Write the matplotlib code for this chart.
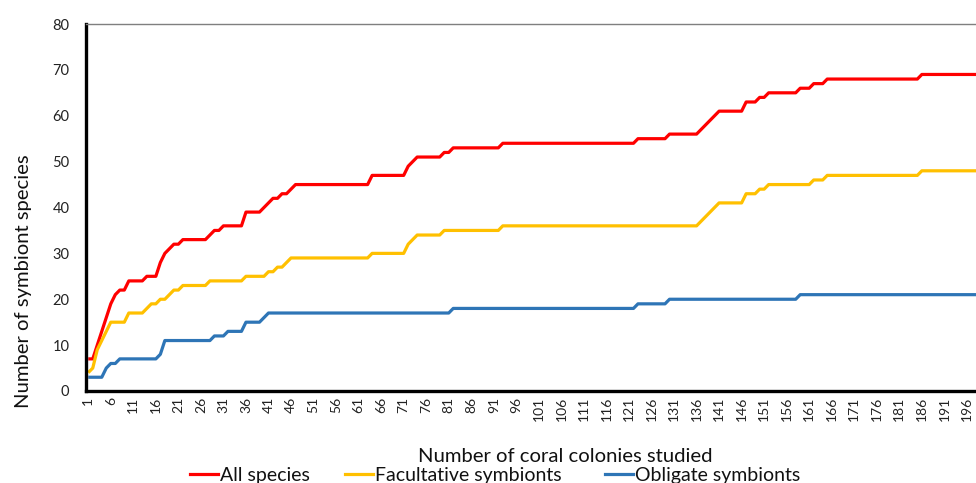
import numpy as np
import matplotlib
matplotlib.use("Agg")
import matplotlib.pyplot as plt
from matplotlib.lines import Line2D

plt.rcParams['font.family'] = ['Lato', 'DejaVu Sans']

# Cumulative species counts per colony, stored as (level, run length) pairs
all_species_levels = [7, 10, 13, 16, 19, 21, 22, 24, 25, 28, 30, 31, 32, 33, 34, 35, 36, 39,
                      40, 41, 42, 43, 44, 45, 47, 49, 50, 51, 52, 53, 54, 55, 56, 57, 58, 59,
                      60, 61, 63, 64, 65, 66, 67, 68, 69]
all_species_runs = [2, 1, 1, 1, 1, 1, 2, 4, 3, 1, 1, 1, 2, 6, 1, 2, 5, 4,
                    1, 1, 2, 2, 1, 17, 8, 1, 1, 6, 2, 11, 30, 7, 7, 1, 1, 1,
                    1, 6, 3, 2, 7, 3, 3, 21, 15]

facultative_levels = [4, 5, 9, 11, 13, 15, 17, 18, 19, 20, 21, 22, 23, 24, 25, 26, 27, 28,
                      29, 30, 32, 33, 34, 35, 36, 37, 38, 39, 40, 41, 43, 44, 45, 46, 47, 48]
facultative_runs = [1, 1, 1, 1, 1, 4, 4, 1, 2, 2, 1, 2, 6, 8, 5, 2, 2, 1,
                    18, 8, 1, 1, 6, 13, 44, 1, 1, 1, 1, 6, 3, 2, 10, 3, 21, 15]

obligate_levels = [3, 5, 6, 7, 8, 11, 12, 13, 15, 16, 17, 18, 19, 20, 21]
obligate_runs = [4, 1, 2, 9, 1, 11, 3, 4, 4, 1, 41, 41, 7, 29, 42]

series_names = ["All species", "Facultative symbionts", "Obligate symbionts"]
series_colors = ["#FF0000", "#FFC000", "#2E75B6"]

all_species = np.repeat(all_species_levels, all_species_runs)
facultative = np.repeat(facultative_levels, facultative_runs)
obligate = np.repeat(obligate_levels, obligate_runs)

n_colonies = len(all_species)
colonies = np.arange(1, n_colonies + 1)
tick_positions = colonies[::5]
tick_labels = [str(c) for c in tick_positions]

W, H = 976, 483
fig = plt.figure(figsize=(W / 100, H / 100), dpi=100)

left_px, right_px, top_px, bottom_px = 86, 86 + 4.506 * n_colonies, 24, 391
ax = fig.add_axes([left_px / W, 1 - bottom_px / H,
                   (right_px - left_px) / W, (bottom_px - top_px) / H])

lines = []
for values, name, color in zip([all_species, facultative, obligate], series_names, series_colors):
    ln, = ax.plot(colonies, values, color=color, lw=2.3, label=name,
                  solid_joinstyle='round', solid_capstyle='butt')
    lines.append(ln)

ax.set_xlim(0.5, n_colonies + 0.5)
ax.set_ylim(0, 80)
ax.set_yticks(range(0, 81, 10))
ax.set_xticks(tick_positions)
ax.set_xticklabels(tick_labels, rotation=90, fontsize=10, color="#222222")
ax.tick_params(axis='y', labelsize=10.5, labelcolor="#222222", length=0, pad=12)
ax.tick_params(axis='x', length=0, pad=4)

ax.spines['left'].set_linewidth(2.4)
ax.spines['bottom'].set_linewidth(2.4)
ax.spines['left'].set_color('black')
ax.spines['bottom'].set_color('black')
ax.spines['top'].set_color('#7f7f7f')
ax.spines['top'].set_linewidth(1.0)
ax.spines['right'].set_visible(False)

fig.text(24 / W, 1 - 281 / H, "Number of symbiont species", rotation=90,
         ha='center', va='center', fontsize=14.6, color="#111111")
fig.text(565 / W, 1 - 456 / H, "Number of coral colonies studied",
         ha='center', va='center', fontsize=14.6, color="#111111")

# One legend entry per series, laid out in a single row under the axis title
legend_x_px = [190, 345, 605]
for ln, x0 in zip(lines, legend_x_px):
    handle = Line2D([], [], color=ln.get_color(), lw=2.3)
    fig.legend([handle], [ln.get_label()], loc='center left',
               bbox_to_anchor=(x0 / W, 1 - 475 / H), frameon=False,
               fontsize=14, handlelength=1.45, handletextpad=0.1,
               borderpad=0, borderaxespad=0, labelcolor="#111111")

fig.savefig("out.png", dpi=100, facecolor='white')
